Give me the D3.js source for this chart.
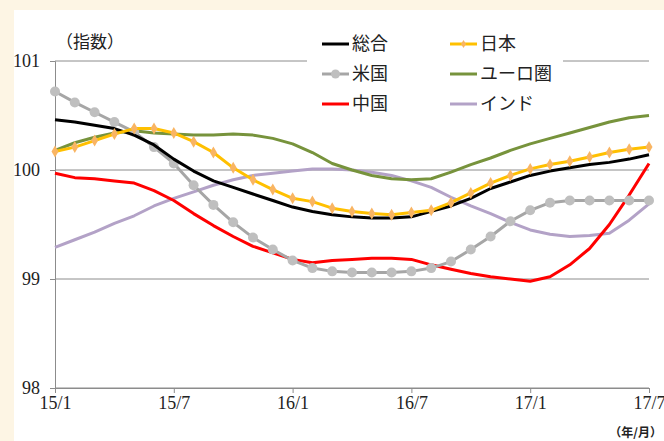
<!DOCTYPE html>
<html lang="ja">
<head>
<meta charset="UTF-8">
<title>指数</title>
<script src="https://d3js.org/d3.v7.min.js"></script>
<style>
  html, body { margin: 0; padding: 0; background: #fdf5e4; }
  svg { display: block; }
  .num { font-family: "Liberation Serif", serif; font-size: 18px; fill: #222; }
  .jp { font-family: "Noto Sans CJK JP", sans-serif; fill: #222; }
</style>
</head>
<body>
<div id="chart"></div>
<script>
// months 15/1 .. 17/7
const xTickLabels = ["15/1", "15/7", "16/1", "16/7", "17/1", "17/7"];
const yTicks = [98, 99, 100, 101];

const total = [100.46, 100.44, 100.41, 100.38, 100.32, 100.23, 100.10, 99.99, 99.90, 99.84,
  99.78, 99.72, 99.66, 99.62, 99.59, 99.57, 99.56, 99.56, 99.57, 99.62,
  99.67, 99.74, 99.83, 99.89, 99.95, 99.99, 100.02, 100.05, 100.07, 100.10, 100.14];
const japan = [100.17, 100.21, 100.27, 100.33, 100.38, 100.38, 100.34, 100.26, 100.16, 100.02,
  99.91, 99.82, 99.74, 99.71, 99.65, 99.62, 99.60, 99.59, 99.61, 99.63,
  99.70, 99.79, 99.88, 99.95, 100.01, 100.05, 100.08, 100.12, 100.16, 100.19, 100.21];
const us = [100.72, 100.62, 100.53, 100.44, 100.35, 100.21, 100.06, 99.86, 99.68, 99.52,
  99.38, 99.27, 99.17, 99.10, 99.07, 99.06, 99.06, 99.06, 99.07, 99.10,
  99.16, 99.27, 99.39, 99.53, 99.63, 99.70, 99.72, 99.72, 99.72, 99.72, 99.72];
const euro = [100.18, 100.25, 100.30, 100.34, 100.36, 100.34, 100.33, 100.32, 100.32, 100.33,
  100.32, 100.29, 100.24, 100.16, 100.06, 100.00, 99.95, 99.92, 99.91, 99.92,
  99.98, 100.05, 100.11, 100.18, 100.24, 100.29, 100.34, 100.39, 100.44, 100.48, 100.50];
const china = [99.97, 99.93, 99.92, 99.90, 99.88, 99.81, 99.72, 99.60, 99.49, 99.39,
  99.30, 99.24, 99.18, 99.15, 99.17, 99.18, 99.19, 99.19, 99.18, 99.13,
  99.09, 99.05, 99.02, 99.00, 98.98, 99.02, 99.13, 99.28, 99.50, 99.77, 100.06];
const india = [99.29, 99.36, 99.43, 99.51, 99.58, 99.67, 99.74, 99.80, 99.86, 99.91,
  99.95, 99.97, 99.99, 100.01, 100.01, 100.00, 99.98, 99.95, 99.90, 99.84,
  99.75, 99.67, 99.60, 99.52, 99.45, 99.41, 99.39, 99.40, 99.42, 99.54, 99.69];

const series = [
  { name: "総合", values: total, color: "#000000", marker: null },
  { name: "日本", values: japan, color: "#ffc000", marker: "diamond" },
  { name: "米国", values: us, color: "#a6a6a6", marker: "circle" },
  { name: "ユーロ圏", values: euro, color: "#77933c", marker: null },
  { name: "中国", values: china, color: "#ff0000", marker: null },
  { name: "インド", values: india, color: "#b3a2c7", marker: null }
];

const width = 664, height = 441;
const plotLeft = 55, plotRight = 649, plotTop = 61, plotBottom = 388;

const svg = d3.select("#chart").append("svg")
    .attr("width", width)
    .attr("height", height);

// white panel
svg.append("rect")
    .attr("x", 14).attr("y", 10)
    .attr("width", width - 14).attr("height", height - 10)
    .attr("fill", "#fff");

const x = d3.scaleLinear().domain([0, 30]).range([plotLeft, plotRight]);
const y = d3.scaleLinear().domain([98, 101]).range([plotBottom, plotTop]);

// gridlines
svg.append("g")
  .selectAll("line")
  .data(yTicks)
  .join("line")
    .attr("x1", plotLeft).attr("x2", plotRight)
    .attr("y1", d => y(d)).attr("y2", d => y(d))
    .attr("stroke", "#8c8c8c")
    .attr("stroke-width", 1);

// y axis
const yAxis = svg.append("g")
    .attr("transform", `translate(${plotLeft},0)`)
    .call(d3.axisLeft(y).tickValues(yTicks).tickSize(5).tickPadding(10).tickFormat(d3.format("d")));
yAxis.select(".domain").attr("stroke", "#8c8c8c");
yAxis.selectAll(".tick line").attr("stroke", "#8c8c8c");
yAxis.selectAll("text").attr("class", "num").attr("fill", null);

// x axis
const xAxis = svg.append("g")
    .attr("transform", `translate(0,${plotBottom})`)
    .call(d3.axisBottom(x).tickValues(d3.range(0, 31, 6)).tickSize(5).tickPadding(3)
      .tickFormat((d, i) => xTickLabels[i]));
xAxis.select(".domain").attr("stroke", "#8c8c8c");
xAxis.selectAll(".tick line").attr("stroke", "#8c8c8c");
xAxis.selectAll("text").attr("class", "num").attr("fill", null);

// legend box (covers gridline)
svg.append("rect")
    .attr("x", 307).attr("y", 28).attr("width", 256).attr("height", 92)
    .attr("fill", "#fff");

const line = d3.line()
    .x((d, i) => x(i))
    .y(d => y(d));

const drawOrder = [5, 3, 4, 2, 0, 1];
drawOrder.forEach(k => {
  const s = series[k];
  svg.append("path")
      .datum(s.values)
      .attr("fill", "none")
      .attr("stroke", s.color)
      .attr("stroke-width", 3)
      .attr("stroke-linejoin", "round")
      .attr("d", line);
  if (s.marker === "circle") {
    svg.append("g").selectAll("circle")
      .data(s.values)
      .join("circle")
        .attr("cx", (d, i) => x(i))
        .attr("cy", d => y(d))
        .attr("r", 5)
        .attr("fill", "#bfbfbf");
  } else if (s.marker === "diamond") {
    svg.append("g").selectAll("path")
      .data(s.values)
      .join("path")
        .attr("transform", (d, i) => `translate(${x(i)},${y(d)})`)
        .attr("d", "M0,-6L3.5,0L0,6L-3.5,0Z")
        .attr("fill", "#f9b563");
  }
});

// legend
const legend = svg.append("g");
series.forEach((s, i) => {
  const col = i % 2, row = Math.floor(i / 2);
  const lx = col === 0 ? 322 : 450;
  const ly = 44 + row * 30;
  const g = legend.append("g").attr("transform", `translate(${lx},${ly})`);
  g.append("line")
      .attr("x1", 0).attr("x2", 27).attr("y1", 0).attr("y2", 0)
      .attr("stroke", s.color).attr("stroke-width", 3);
  if (s.marker === "circle") {
    g.append("circle").attr("cx", 13.5).attr("cy", 0).attr("r", 4.5).attr("fill", "#bfbfbf");
  } else if (s.marker === "diamond") {
    g.append("path").attr("transform", "translate(13.5,0)")
      .attr("d", "M0,-4L2.5,0L0,4L-2.5,0Z").attr("fill", "#f9b563");
  }
  g.append("text")
      .attr("class", "jp")
      .attr("x", 30).attr("y", 0)
      .attr("dy", "0.36em")
      .attr("font-size", 18)
      .text(s.name);
});

// axis titles
svg.append("text")
    .attr("class", "jp")
    .attr("x", 56).attr("y", 48)
    .attr("font-size", 17)
    .text("（指数）");
svg.append("text")
    .attr("class", "jp")
    .attr("x", 662).attr("y", 437)
    .attr("text-anchor", "end")
    .attr("font-size", 12)
    .attr("font-weight", "bold")
    .text("（年/月）");
</script>
</body>
</html>
